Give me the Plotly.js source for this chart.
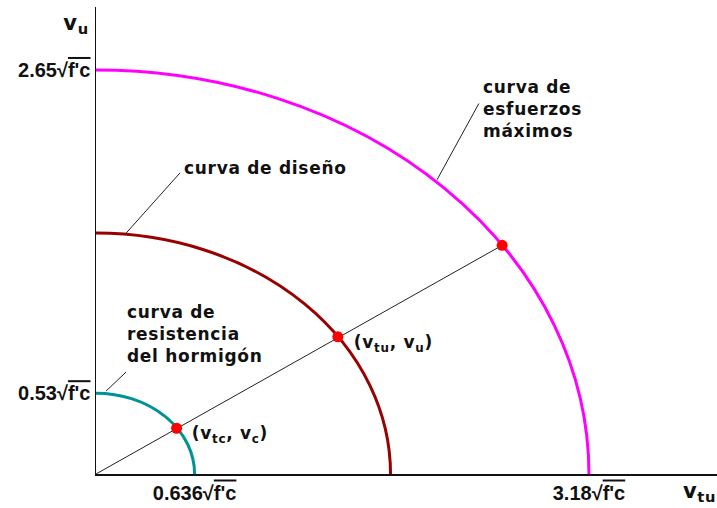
<!DOCTYPE html>
<html>
<head>
<meta charset="utf-8">
<script src="https://cdn.plot.ly/plotly-3.0.1.min.js"></script>
<style>
  html, body { margin: 0; padding: 0; background: #fff; }
  #chart { width: 717px; height: 508px; }
  #chart .annotation-text { letter-spacing: 0.7px; }
</style>
</head>
<body>
<div id="chart"></div>
<script>
// Interaction curves (torsion vtu vs. shear vu), intercepts in units of sqrt(f'c)
const curveNames = ['curva de resistencia del hormigón', 'curva de diseño', 'curva de esfuerzos máximos'];
const curveVtu = [0.636, 1.90, 3.18];
const curveVu = [0.53, 1.58, 2.65];

// Points where the loading ray crosses each curve
const pointVtu = [0.52, 1.56, 2.62];
const pointVu = [0.30, 0.90, 1.50];

// Axis tick values (labelled as multiples of sqrt(f'c))
const xTickVals = [0.636, 3.18];
const yTickVals = [0.53, 2.65];

const curveColors = ['#009393', '#990000', '#ff00ff'];
const rootFc = '√<span style="text-decoration:overline">f\'c</span>';

const labelFont = { family: 'DejaVu Sans, Verdana, sans-serif', size: 17, color: '#111', weight: 'bold' };
const titleFont = { family: 'DejaVu Sans, Verdana, sans-serif', size: 21, color: '#111', weight: 'bold' };
const tickFont = { family: 'Liberation Sans, Arial, sans-serif', size: 20, color: '#111', weight: 'bold' };

// Each curve is a quarter ellipse: a full ellipse clipped by the first quadrant
const curveShapes = curveVtu.map((a, i) => ({
  type: 'circle', xref: 'x', yref: 'y', layer: 'below',
  x0: -a, x1: a, y0: -curveVu[i], y1: curveVu[i],
  line: { color: curveColors[i], width: 3 }
}));

// Leader lines from labels to curves
const leader = (x0, y0, x1, y1) => ({
  type: 'line', xref: 'x', yref: 'y', x0, y0, x1, y1,
  line: { color: '#222', width: 1 }
});

const traces = [
  {
    x: [0, pointVtu[2]], y: [0, pointVu[2]],
    mode: 'lines', line: { color: '#222', width: 1 },
    hoverinfo: 'skip', showlegend: false
  },
  {
    x: pointVtu, y: pointVu,
    mode: 'markers', marker: { color: '#ff0000', size: 11 },
    hoverinfo: 'skip', showlegend: false
  }
];

const layout = {
  width: 717, height: 508,
  margin: { l: 96, r: 0, t: 7, b: 34 },
  paper_bgcolor: '#fff', plot_bgcolor: '#fff',
  showlegend: false,
  xaxis: {
    range: [0, 4.006], fixedrange: true,
    showgrid: false, zeroline: false,
    showline: true, linecolor: '#111', linewidth: 1.5,
    ticks: '', tickmode: 'array', tickvals: xTickVals,
    ticktext: xTickVals.map(v => v + rootFc),
    tickfont: tickFont
  },
  yaxis: {
    range: [0, 3.063], fixedrange: true,
    showgrid: false, zeroline: false,
    showline: true, linecolor: '#111', linewidth: 1.5,
    ticks: '', tickmode: 'array', tickvals: yTickVals,
    ticktext: yTickVals.map(v => v + rootFc),
    tickfont: tickFont
  },
  shapes: curveShapes.concat([
    leader(0.065, 0.544, 0.194, 0.669),
    leader(0.19, 1.575, 0.542, 1.975),
    leader(2.20, 1.93, 2.47, 2.43)
  ]),
  annotations: [
    { text: 'curva de<br>resistencia<br>del hormigón', x: 0.187, y: 0.92, xref: 'x', yref: 'y',
      xanchor: 'left', yanchor: 'middle', align: 'left', showarrow: false, font: labelFont },
    { text: 'curva de diseño', x: 0.555, y: 2.007, xref: 'x', yref: 'y',
      xanchor: 'left', yanchor: 'middle', align: 'left', showarrow: false, font: labelFont },
    { text: 'curva de<br>esfuerzos<br>máximos', x: 2.484, y: 2.394, xref: 'x', yref: 'y',
      xanchor: 'left', yanchor: 'middle', align: 'left', showarrow: false, font: labelFont },
    { text: '(v<sub>tc</sub>, v<sub>c</sub>)', x: 0.625, y: 0.256, xref: 'x', yref: 'y',
      xanchor: 'left', yanchor: 'middle', showarrow: false, font: labelFont },
    { text: '(v<sub>tu</sub>, v<sub>u</sub>)', x: 1.671, y: 0.859, xref: 'x', yref: 'y',
      xanchor: 'left', yanchor: 'middle', showarrow: false, font: labelFont },
    { text: 'v<sub>u</sub>', x: 90, y: 24, xref: 'paper', yref: 'paper',
      showarrow: false, font: titleFont, xanchor: 'right', yanchor: 'middle' },
    { text: 'v<sub>tu</sub>', x: 682, y: 492, xref: 'paper', yref: 'paper',
      showarrow: false, font: titleFont, xanchor: 'left', yanchor: 'middle' }
  ]
};

// Axis-title annotations are given in pixels above; convert them to paper fractions
const plotW = layout.width - layout.margin.l - layout.margin.r;
const plotH = layout.height - layout.margin.t - layout.margin.b;
layout.annotations.forEach(a => {
  if (a.xref === 'paper') {
    a.x = (a.x - layout.margin.l) / plotW;
    a.y = (layout.height - layout.margin.b - a.y) / plotH;
  }
});

Plotly.newPlot('chart', traces, layout, { staticPlot: true, displayModeBar: false });
</script>
</body>
</html>
